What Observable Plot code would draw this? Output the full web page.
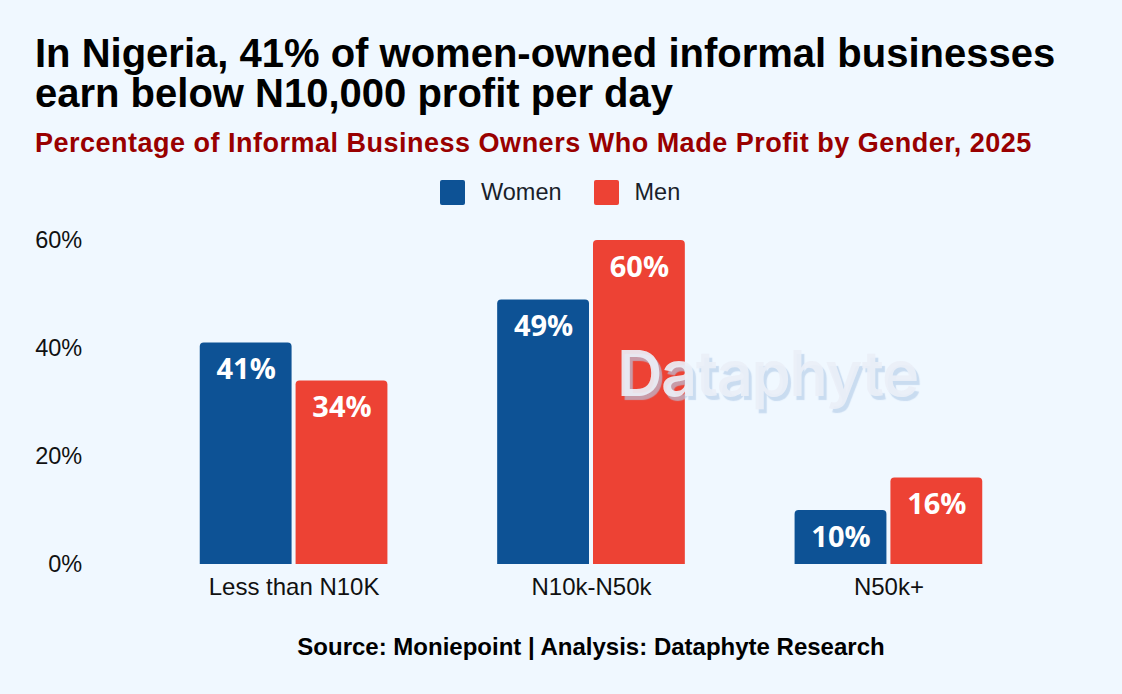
<!DOCTYPE html>
<html lang="en">
<head>
<meta charset="utf-8">
<script src="https://cdn.jsdelivr.net/npm/d3@7"></script>
<script src="https://cdn.jsdelivr.net/npm/@observablehq/plot@0.6"></script>
<style>
html,body{margin:0;padding:0;background:#f0f8ff;width:1122px;height:694px;overflow:hidden}
#page{position:relative;width:1122px;height:694px;font-family:"Liberation Sans",Arial,sans-serif}
h1{position:absolute;left:35px;top:33px;margin:0;font-size:40px;line-height:40px;font-weight:700;color:#000;white-space:nowrap}
h2{position:absolute;left:35px;top:128px;margin:0;font-size:27px;line-height:30px;font-weight:700;color:#990000;white-space:nowrap;letter-spacing:.5px}
#legend{position:absolute;left:440px;top:180px;height:25px;display:flex;align-items:center;font-size:23.5px;color:#1a1f2b}
#legend i{display:inline-block;width:25px;height:25px;border-radius:2px;margin-right:16px}
#legend span{margin-right:32px}
#chart{position:absolute;left:0;top:225px}
#chart svg{display:block;background:transparent}
#mark{position:absolute;left:617px;top:335px;font-family:"Inter",sans-serif;font-size:63px;line-height:76px;font-weight:600;color:rgba(234,239,247,.92);text-shadow:3px 4px 1px rgba(180,205,232,.65);white-space:nowrap;letter-spacing:-1.5px}
#source{position:absolute;left:0;width:1182px;top:633px;text-align:center;font-size:24px;line-height:27px;font-weight:700;color:#000}
</style>
</head>
<body>
<div id="page">
  <h1>In Nigeria, 41% of women-owned informal businesses<br>earn below N10,000 profit per day</h1>
  <h2>Percentage of Informal Business Owners Who Made Profit by Gender, 2025</h2>
  <div id="legend"></div>
  <div id="chart"></div>
  <div id="mark">Dataphyte</div>
  <div id="source">Source: Moniepoint | Analysis: Dataphyte Research</div>
</div>
<script>
const categories = ["Less than N10K", "N10k-N50k", "N50k+"];
const genders = ["Women", "Men"];
const women = [41, 49, 10];
const men = [34, 60, 16];
const colors = ["#0d5295", "#ed4234"];
const yTicks = [0, 20, 40, 60];

const rows = categories.flatMap((c, i) => [
  {category: c, gender: genders[0], value: women[i]},
  {category: c, gender: genders[1], value: men[i]}
]);

document.getElementById("legend").innerHTML = genders
  .map((g, i) => `<i style="background:${colors[i]}"></i><span>${g}</span>`).join("");

const chart = Plot.plot({
  width: 1122,
  height: 390,
  marginTop: 15,
  marginBottom: 51,
  marginLeft: 90,
  marginRight: 30,
  style: {background: "transparent", fontFamily: "'Liberation Sans', Arial, sans-serif", overflow: "visible"},
  fx: {domain: categories, paddingInner: 0.369, paddingOuter: 0.369, round: false, label: null},
  x: {domain: genders, paddingInner: 0.0417, paddingOuter: 0, round: false, axis: null, label: null},
  y: {domain: [0, 60], label: null},
  color: {domain: genders, range: colors},
  marks: [
    Plot.barY(rows, {fx: "category", x: "gender", y: "value", fill: "gender", rx1y1: 4, rx2y1: 4}),
    Plot.text(rows, {
      fx: "category", x: "gender", y: "value", text: d => `${d.value}%`,
      dy: 27, fill: "#fff", fontSize: 29, fontWeight: 700, fontFamily: "'Open Sans', sans-serif"
    }),
    Plot.axisY({ticks: yTicks, tickSize: 0, tickPadding: 8, dx: -110, tickFormat: d => `${d}%`, fontSize: 23.5, fill: "#111", label: null}),
    Plot.axisFx({anchor: "bottom", tickSize: 0, tickPadding: 13, fontSize: 24, fill: "#111", label: null})
  ]
});
document.getElementById("chart").appendChild(chart);
</script>
</body>
</html>
